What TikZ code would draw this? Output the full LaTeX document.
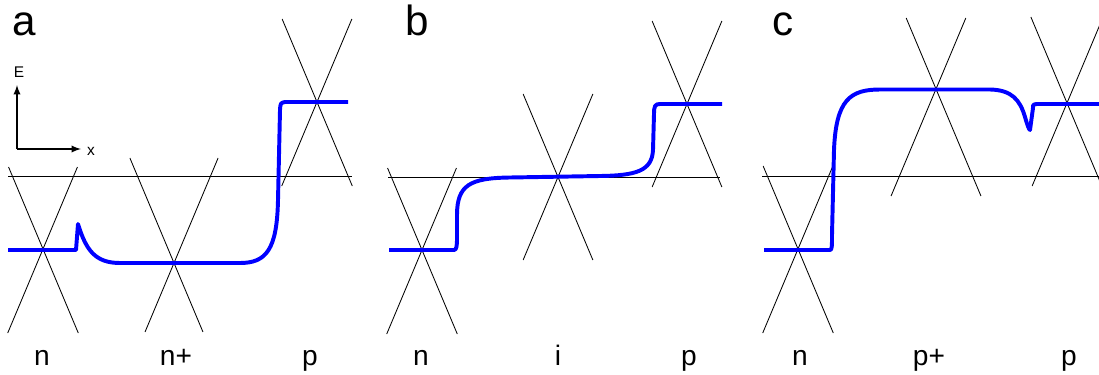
\documentclass[tikz,border=0pt]{standalone}
\usepackage{fontspec}
\setsansfont{Liberation Sans}
\begin{document}
\begin{tikzpicture}[x=0.025cm, y=-0.025cm, font=\sffamily, >=latex,
    cone/.style={black, line width=0.6pt},
    band/.style={blue, line width=2.8pt, line join=round},
    axis/.style={->, line width=1.3pt},
    lbl/.style={anchor=base, font=\sffamily\fontsize{20}{24}\selectfont},
    panel/.style={anchor=base, font=\sffamily\fontsize{30}{36}\selectfont},
    small/.style={anchor=base, font=\sffamily\fontsize{11}{13}\selectfont}]
  % one unit = one pixel of the 1099 x 375 frame, y pointing down
  \useasboundingbox (0,0) rectangle (1099,375);
  \clip (0,0) rectangle (1099,375);
  % cones: centre x / centre y / length above / length below
  \foreach \cx/\cy/\up/\dn in {43/249/82/84, 174/263/105/69, 317/102/83/84,
      422/250/82/84, 558/177/83/83, 687/104/83/83,
      798/249/83/84, 936/89/71/107, 1067/103/86/83} {
    \draw[cone] ({\cx-0.42*\up},{\cy-\up}) -- ({\cx+0.42*\dn},{\cy+\dn});
    \draw[cone] ({\cx+0.42*\up},{\cy-\up}) -- ({\cx-0.42*\dn},{\cy+\dn});
  }
  % reference levels
  \draw[cone] (8,176) -- (352,176);
  \draw[cone] (388,177) -- (720,177);
  \draw[cone] (762,176) -- (1099,176);
  % panel a
  \draw[band] (8,250) -- (76,250) -- (78,224)
    .. controls (86,250) and (95,263) .. (120,263) -- (240,263)
    .. controls (266,263) and (277,250) .. (278,200) -- (280,110)
    .. controls (280.5,103) .. (285,102) -- (348,102);
  % panel b
  \draw[band] (389,250) -- (454,250) .. controls (456.5,250) and (457,246) .. (457,238)
    -- (457,215) .. controls (457,185) and (470,178) .. (510,177.5) -- (600,176)
    .. controls (636,175.5) and (652,171) .. (653,150) -- (654,114)
    .. controls (654,106) and (655,104) .. (660,104) -- (722,104);
  % panel c
  \draw[band] (764,250) -- (830,250) .. controls (832,250) and (832,246) .. (832,235)
    -- (834,150) .. controls (836,100) and (850,89.5) .. (880,89.5) -- (990,89.5)
    .. controls (1012,90) and (1020,100) .. (1025,117)
    .. controls (1027,124) and (1029,130) .. (1030,130) -- (1033,108)
    .. controls (1033,104.5) .. (1037,104) -- (1099,104);
  % axes
  \coordinate (o) at (17,149);
  \coordinate (Etip) at (17,85);
  \coordinate (xtip) at (81,149);
  \draw[axis] (o) -- (Etip);
  \draw[axis] (o) -- (xtip);
  \node[small] (E) at (19,77) {E};
  \node[small] (xl) at (91,155) {x};
  % panel letters
  \node[panel] (pa) at (24,35) {a};
  \node[panel] (pb) at (417,35) {b};
  \node[panel] (pc) at (783,35) {c};
  % region labels
  \node[lbl] (an) at (42,365) {n};
  \node[lbl] (anp) at (176,365) {n+};
  \node[lbl] (ap) at (310,365) {p};
  \node[lbl] (bn) at (421,365) {n};
  \node[lbl] (bi) at (558,365) {i};
  \node[lbl] (bp) at (689,365) {p};
  \node[lbl] (cn) at (800,365) {n};
  \node[lbl] (cpp) at (929,365) {p+};
  \node[lbl] (cp) at (1069,365) {p};
\end{tikzpicture}
\end{document}
